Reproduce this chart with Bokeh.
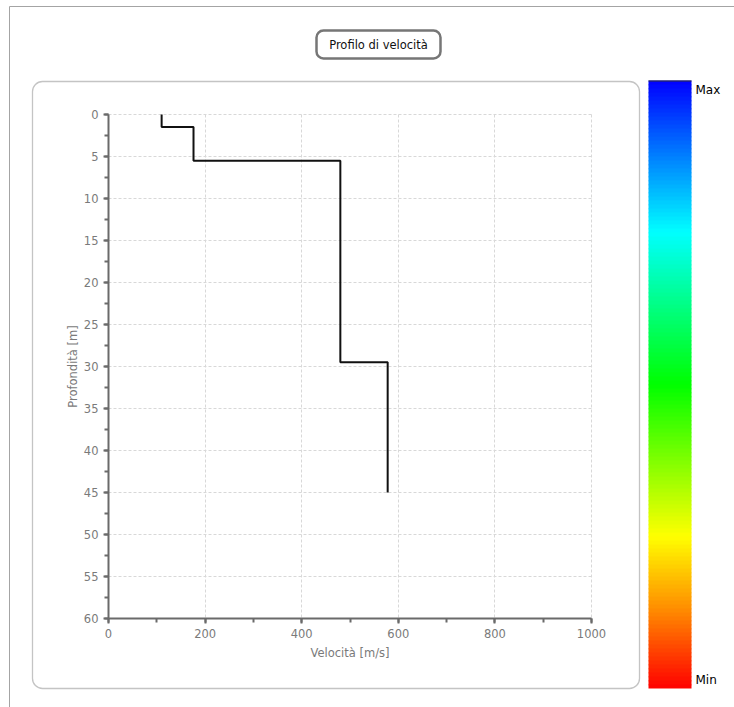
from bokeh.plotting import figure
from bokeh.models import (Range1d, FixedTicker, BoxAnnotation, Label)
from bokeh.embed import file_html
from bokeh.resources import INLINE

# ---- data ----
layer_top = [0.0, 1.5, 5.5, 29.5]          # m
layer_bottom = [1.5, 5.5, 29.5, 45.0]      # m
velocity = [110, 176, 480, 578]            # m/s
x_ticks = [0, 200, 400, 600, 800, 1000]
x_minor = [0, 100, 200, 300, 400, 500, 600, 700, 800, 900, 1000]
y_ticks = [0, 5, 10, 15, 20, 25, 30, 35, 40, 45, 50, 55, 60]
y_minor = [0, 2.5, 5, 7.5, 10, 12.5, 15, 17.5, 20, 22.5, 25, 27.5, 30, 32.5,
           35, 37.5, 40, 42.5, 45, 47.5, 50, 52.5, 55, 57.5, 60]
title_text = "Profilo di velocità"
x_label = "Velocità [m/s]"
y_label = "Profondità [m]"
cbar_labels = ["Max", "Min"]

W, H = 734, 707
FL, FR, FT, FB = 108, 591, 114, 618   # plot area in pixels
XMIN, XMAX, YMIN, YMAX = 0, 1000, 0, 60


def X(px):
    return XMIN + (px - FL) / (FR - FL) * (XMAX - XMIN)


def Y(py):
    return YMIN + (py - FT) / (FB - FT) * (YMAX - YMIN)


p = figure(width=W, height=H, output_backend="svg", toolbar_location=None,
           x_range=Range1d(X(0), X(W)), y_range=Range1d(Y(H), Y(0)),
           min_border_left=0, min_border_right=0,
           min_border_top=0, min_border_bottom=0)
p.outline_line_color = None
p.background_fill_color = "white"
p.border_fill_color = "white"

# outer frame
p.add_layout(BoxAnnotation(left=X(9), right=X(760), top=Y(6), bottom=Y(730),
                           fill_alpha=0, line_color="#a4a4a4", line_alpha=1,
                           line_width=1, level="underlay"))
# rounded panel
p.add_layout(BoxAnnotation(left=X(32), right=X(639), top=Y(81), bottom=Y(688),
                           fill_alpha=0, line_color="#c4c4c4", line_alpha=1,
                           line_width=1.3, border_radius=10, level="underlay"))
# title box
p.add_layout(BoxAnnotation(left=X(316), right=X(440), top=Y(30), bottom=Y(58),
                           fill_color="white", fill_alpha=1, line_color="#767676",
                           line_alpha=1, line_width=2.5, border_radius=7))
p.add_layout(Label(x=X(378), y=Y(44), text=title_text, text_align="center",
                   text_baseline="middle", text_font="DejaVu Sans",
                   text_font_size="11.5px", text_color="#111111"))

# colour bar (gradient blue -> cyan -> green -> yellow -> orange -> red)
stops = [(0.0, (0, 0, 255)), (0.25, (0, 255, 255)), (0.50, (0, 255, 0)),
         (0.75, (255, 255, 0)), (0.87, (255, 140, 0)), (1.0, (255, 0, 0))]


def col(t):
    for (a, ca), (b, cb) in zip(stops[:-1], stops[1:]):
        if a <= t <= b:
            f = (t - a) / (b - a)
            c = [round(ca[i] + (cb[i] - ca[i]) * f) for i in range(3)]
            return "#%02x%02x%02x" % tuple(c)
    return "#ff0000"


CB_L, CB_R, CB_T, CB_B = 648, 691, 80, 688
n = 152
step = (CB_B - CB_T) / n
for i in range(n):
    t0 = CB_T + i * step
    p.add_layout(BoxAnnotation(left=X(CB_L), right=X(CB_R), top=Y(t0),
                               bottom=Y(min(t0 + step + 0.8, CB_B)),
                               fill_color=col((i + 0.5) / n), fill_alpha=1,
                               line_color=None, level="underlay"))
p.add_layout(BoxAnnotation(left=X(CB_L), right=X(CB_R), top=Y(CB_T), bottom=Y(CB_T + 1),
                           fill_color="#333333", fill_alpha=1, line_color=None))
p.add_layout(Label(x=X(695), y=Y(89), text=cbar_labels[0], text_baseline="middle",
                   text_font="DejaVu Sans", text_font_size="12px", text_color="#000000"))
p.add_layout(Label(x=X(695), y=Y(679), text=cbar_labels[1], text_baseline="middle",
                   text_font="DejaVu Sans", text_font_size="12px", text_color="#000000"))

# velocity step profile
xs, ys = [], []
for top, bot, v in zip(layer_top, layer_bottom, velocity):
    xs += [v, v]
    ys += [top, bot]
p.line(xs, ys, line_color="#111111", line_width=2)

# axes, fixed at the plot-area edges
p.xaxis.fixed_location = YMAX
p.yaxis.fixed_location = XMIN
p.xaxis.bounds = (XMIN, XMAX)
p.yaxis.bounds = (YMIN, YMAX)
p.xaxis.ticker = FixedTicker(ticks=x_ticks, minor_ticks=x_minor)
p.yaxis.ticker = FixedTicker(ticks=y_ticks, minor_ticks=y_minor)
for ax in (p.xaxis[0], p.yaxis[0]):
    ax.axis_line_color = "#6a6a6a"
    ax.axis_line_width = 2
    ax.major_tick_line_color = "#6a6a6a"
    ax.major_tick_line_width = 2
    ax.minor_tick_line_color = "#6a6a6a"
    ax.minor_tick_line_width = 2
    ax.major_tick_out = 5
    ax.major_tick_in = 0
    ax.minor_tick_out = 4
    ax.minor_tick_in = 0
    ax.major_label_text_font = "DejaVu Sans"
    ax.major_label_text_font_size = "11.5px"
    ax.major_label_text_color = "#7a7a7a"
    ax.axis_label_text_font = "DejaVu Sans"
    ax.axis_label_text_font_size = "11.5px"
    ax.axis_label_text_font_style = "normal"
    ax.axis_label_text_color = "#7a7a7a"
    ax.major_label_standoff = 5
p.xaxis.axis_label = x_label
p.yaxis.axis_label = y_label
p.xaxis.axis_label_standoff = 5
p.yaxis.axis_label_standoff = 1

p.xgrid.ticker = FixedTicker(ticks=x_ticks)
p.ygrid.ticker = FixedTicker(ticks=y_ticks)
p.xgrid.bounds = (XMIN, XMAX)
p.ygrid.bounds = (YMIN, YMAX)
p.xgrid.cross_bounds = (YMIN, YMAX)
p.ygrid.cross_bounds = (XMIN, XMAX)
for g in (p.xgrid[0], p.ygrid[0]):
    g.grid_line_color = "#d8d8d8"
    g.grid_line_dash = "3 2"
    g.grid_line_width = 1

open("out.html", "w").write(file_html(p, INLINE))
